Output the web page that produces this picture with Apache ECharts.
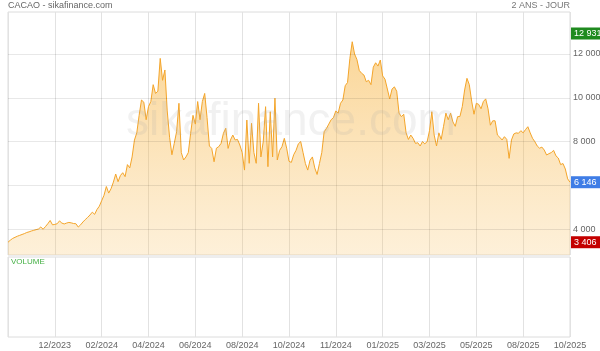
<!DOCTYPE html>
<html><head><meta charset="utf-8">
<style>html,body{margin:0;padding:0;background:#fff}#c{width:600px;height:351px}</style>
<script src="https://cdn.jsdelivr.net/npm/echarts@6/dist/echarts.min.js"></script>
</head><body><div id="c"></div>
<script>
const tickLabels = ['', '12/2023', '02/2024', '04/2024', '06/2024', '08/2024', '10/2024', '11/2024', '01/2025', '03/2025', '05/2025', '08/2025', '10/2025'];
const yTicks = [4000, 6000, 8000, 10000, 12000];
const prices = [
3406,3500,3580,3630,3680,3720,3760,3800,3850,3880,3920,3950,3980,4010,4100,4000,4120,4250,4400,4200,
4220,4250,4380,4280,4240,4280,4310,4290,4260,4250,4100,4200,4330,4440,4540,4650,4780,4680,4900,5050,
5300,5550,5950,5650,5850,6150,6520,6170,6450,6580,6400,6950,6800,7300,8070,8400,9200,9900,9800,9000,
9600,9830,10600,10200,10300,11800,10800,11270,9400,8200,7400,7920,8450,9750,7500,7160,7300,7500,8380,9200,
8800,9830,9000,9830,10200,9100,7800,7690,7080,7700,7770,7920,8380,8610,7690,8075,8300,8075,8100,7845,
7500,6700,8985,7010,8835,7500,7010,9750,7300,8000,9595,6855,9365,7300,9980,7160,7600,7770,8150,7700,
7100,7050,7400,7600,7900,8000,7500,7000,6700,7150,7300,6800,6500,7000,7500,8450,8600,8800,9000,9100,
9400,9300,9750,9900,10550,10700,11800,12560,12000,11750,11250,11120,11040,10735,10800,10600,11400,11600,11450,11725,
11000,10850,10400,9950,10400,10500,10300,9300,9140,9250,8400,8100,8300,8150,7920,7950,7800,8000,7900,8000,
8500,9365,8300,7800,8400,8100,8700,9300,9000,9300,8900,8700,9140,9150,9600,10360,10890,10600,9850,9250,
9750,9700,9500,9830,9950,9500,8750,8950,8950,8300,8200,8075,8225,8100,7235,8075,8350,8400,8380,8500,
8400,8550,8680,8400,8150,7995,7800,7700,7750,7615,7390,7450,7500,7600,7350,7250,6950,7000,6750,6300,6146
];
const highValue = 12931, lastValue = 6146, lowValue = 3406;
const step = 20;

const categories = prices.map((v, i) => (i % step === 0 ? tickLabels[i / step] : ''));
const fmt = v => String(v).replace(/\B(?=(\d{3})+(?!\d))/g, ' ');
const tickFn = i => i % step === 0;

const chart = echarts.init(document.getElementById('c'), null, {renderer: 'canvas'});
const FONT = 'Arial, "Liberation Sans", sans-serif';

const gridLines = yTicks.map(v => ({
  yAxis: v,
  lineStyle: {color: 'rgba(0,0,0,0.09)', width: 1, type: 'solid'},
  label: {show: v !== 6000, position: 'end', distance: 3, formatter: fmt(v), color: '#666', fontSize: 9, fontFamily: FONT}
}));
const badge = (v, bg) => ({
  yAxis: v,
  lineStyle: {color: 'rgba(0,0,0,0)', width: 1},
  label: {show: true, position: 'end', distance: 1, formatter: fmt(v), color: '#fff', fontSize: 9, fontFamily: FONT,
    backgroundColor: bg, padding: [2, 6, 1, 3]}
});

chart.setOption({
  animation: false,
  backgroundColor: '#fff',
  grid: [
    {left: 8, right: 30, top: 12, bottom: 96, show: true, borderColor: '#dcdcdc', borderWidth: 1},
    {left: 8, right: 30, top: 257, bottom: 14, show: true, borderColor: '#dcdcdc', borderWidth: 1}
  ],
  xAxis: [
    {type: 'category', gridIndex: 0, data: categories, boundaryGap: false,
     axisLine: {show: false}, axisTick: {show: false}, axisLabel: {show: false},
     splitLine: {show: true, interval: tickFn, lineStyle: {color: '#e2e2e2'}}},
    {type: 'category', gridIndex: 1, data: categories, boundaryGap: false,
     axisLine: {show: false}, axisTick: {show: false},
     axisLabel: {show: true, interval: tickFn, color: '#666', fontSize: 9, fontFamily: FONT, margin: 4},
     splitLine: {show: true, interval: tickFn, lineStyle: {color: '#e2e2e2'}}}
  ],
  yAxis: [
    {type: 'value', gridIndex: 0, min: 2823, max: 13918, show: false, splitLine: {show: false}},
    {type: 'value', gridIndex: 1, min: 0, max: 1, show: false, splitLine: {show: false}}
  ],
  series: [
    {type: 'line', xAxisIndex: 0, yAxisIndex: 0, data: prices, symbol: 'none', smooth: false,
     lineStyle: {color: '#f4a52a', width: 1},
     areaStyle: {color: new echarts.graphic.LinearGradient(0, 0, 0, 1, [
       {offset: 0, color: 'rgba(246,168,35,0.68)'},
       {offset: 1, color: 'rgba(248,190,90,0.33)'}
     ])},
     markLine: {silent: true, symbol: 'none', animation: false,
       data: gridLines.concat([badge(highValue, '#1f8a1f'), badge(lastValue, '#3f7de6'), badge(lowValue, '#c40000')])}
    },
    {type: 'line', xAxisIndex: 1, yAxisIndex: 1, data: []}
  ],
  graphic: [
    {type: 'text', left: 8, top: 1, z: 10, style: {text: 'CACAO - sikafinance.com', fill: '#666', font: '9px ' + FONT}},
    {type: 'text', right: 30, top: 1, z: 10, style: {text: '2 ANS - JOUR', fill: '#777', font: '9px ' + FONT}},
    {type: 'text', left: 11, top: 258, z: 10, style: {text: 'VOLUME', fill: '#44b044', font: '8px ' + FONT}},
    {type: 'text', left: 126, top: 99, z: 20, silent: true,
     style: {text: 'sikafinance.com', fill: 'rgba(170,170,170,0.16)', font: '46px ' + FONT}}
  ]
});
</script></body></html>
